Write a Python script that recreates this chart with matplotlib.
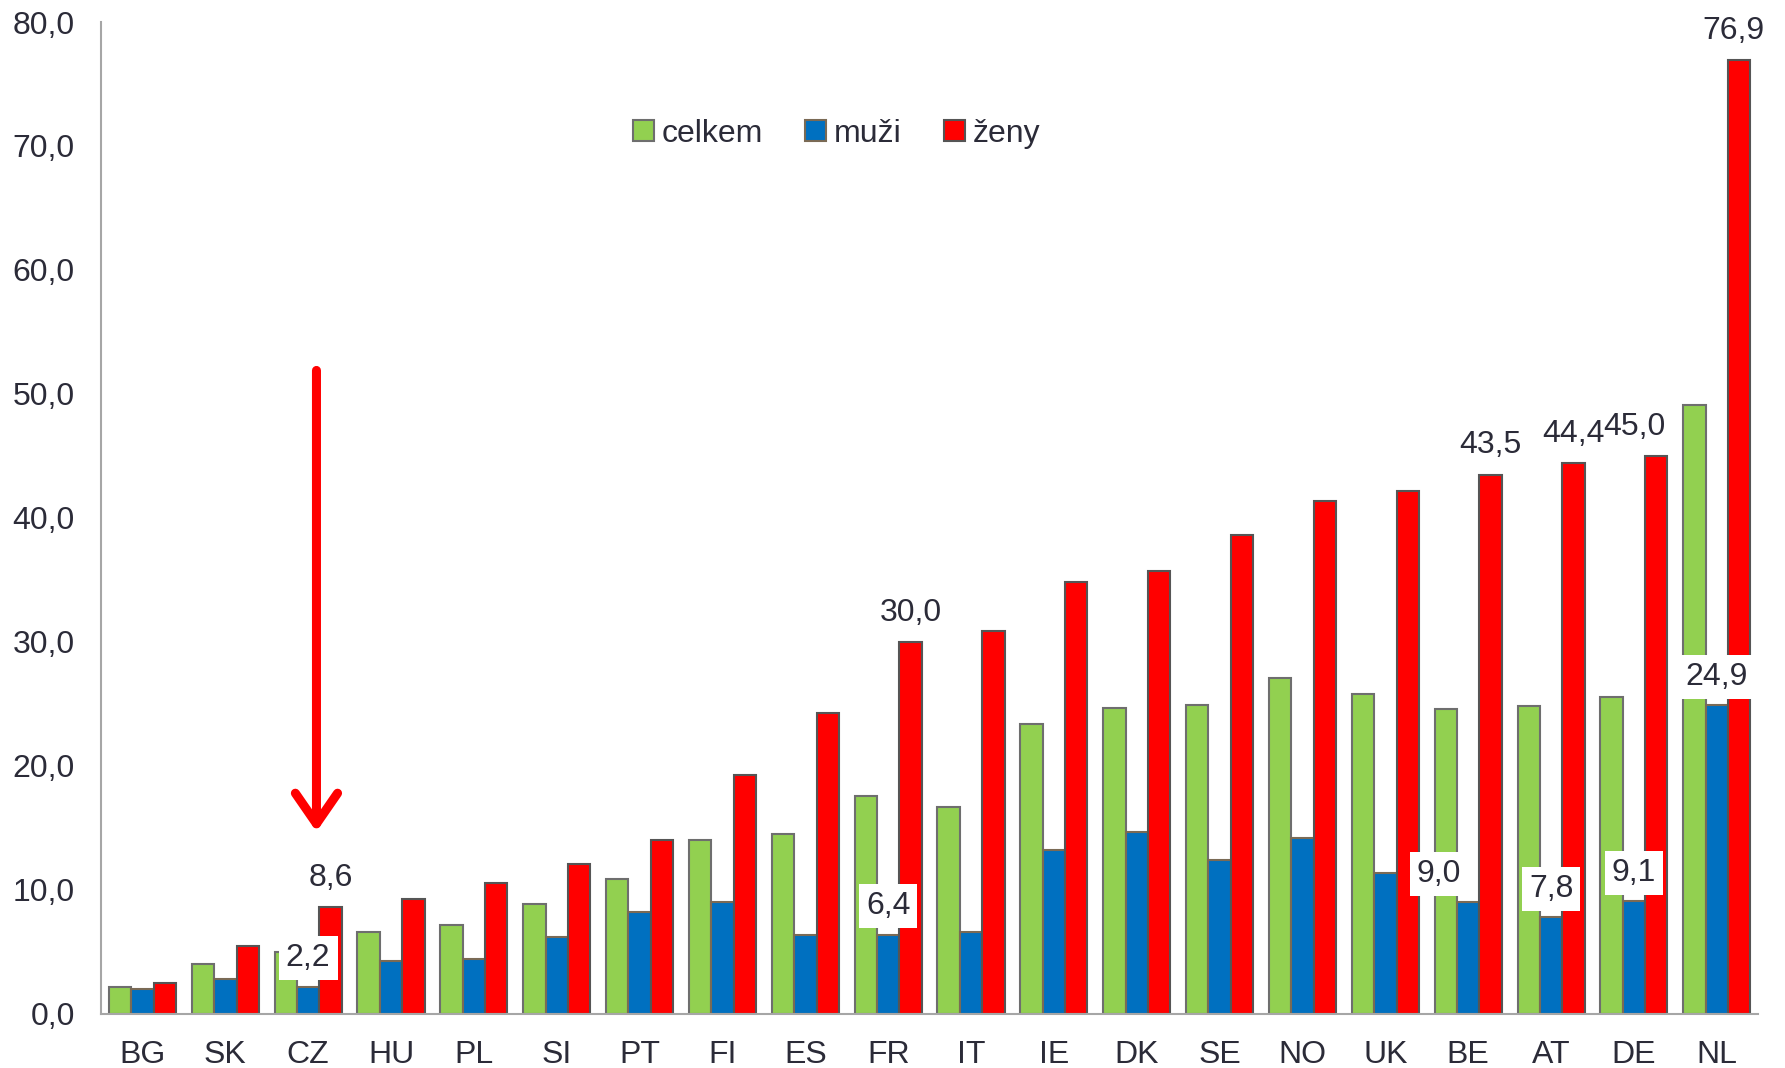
import matplotlib.pyplot as plt
import numpy as np
from matplotlib.ticker import FuncFormatter

plt.rcParams['font.family'] = ['Liberation Sans', 'DejaVu Sans']

# data
countries = ['BG', 'SK', 'CZ', 'HU', 'PL', 'SI', 'PT', 'FI', 'ES', 'FR',
             'IT', 'IE', 'DK', 'SE', 'NO', 'UK', 'BE', 'AT', 'DE', 'NL']
celkem = [2.2, 4.0, 5.0, 6.6, 7.2, 8.9, 10.9, 14.0, 14.5, 17.6,
          16.7, 23.4, 24.7, 24.9, 27.1, 25.8, 24.6, 24.8, 25.6, 49.1]
muzi = [2.0, 2.8, 2.2, 4.3, 4.4, 6.2, 8.2, 9.0, 6.4, 6.4,
        6.6, 13.2, 14.7, 12.4, 14.2, 11.4, 9.0, 7.8, 9.1, 24.9]
zeny = [2.5, 5.5, 8.6, 9.3, 10.6, 12.1, 14.0, 19.3, 24.3, 30.0,
        30.9, 34.8, 35.7, 38.6, 41.4, 42.2, 43.5, 44.4, 45.0, 76.9]

# which bars get a value label
muzi_labelled = ['CZ', 'FR', 'BE', 'AT', 'DE', 'NL']
zeny_labelled = ['CZ', 'FR', 'BE', 'AT', 'DE', 'NL']

green = '#92D050'
blue = '#0070C0'
red = '#FF0000'
txt = '#2B2B38'

fig = plt.figure(figsize=(17.85, 10.68), dpi=100)
ax = fig.add_axes([0.0566, 0.0506, 0.9284, 0.9288])

x = np.arange(len(countries))
w = 0.27
ax.bar(x - w, celkem, w, color=green, edgecolor='#6E6E6E', linewidth=1.5, label='celkem', zorder=2)
ax.bar(x, muzi, w, color=blue, edgecolor='#7A6A55', linewidth=1.5, label='muži', zorder=2)
ax.bar(x + w, zeny, w, color=red, edgecolor='#555555', linewidth=1.5, label='ženy', zorder=2)

# value labels (small manual nudges where the original moved them)
nudge_m = {'BE': -21}
nudge_z = {'DE': -16, 'NL': -4}
for i, c in enumerate(countries):
    if c in muzi_labelled:
        ax.annotate('{:.1f}'.format(muzi[i]).replace('.', ','), (x[i], muzi[i]),
                    xytext=(nudge_m.get(c, 0), 20.5), textcoords='offset points',
                    ha='center', va='center', fontsize=23, color=txt, zorder=5,
                    bbox=dict(boxstyle='square,pad=0.22', fc='white', ec='none'))
    if c in zeny_labelled:
        ax.annotate('{:.1f}'.format(zeny[i]).replace('.', ','), (x[i] + w, zeny[i]),
                    xytext=(nudge_z.get(c, 0), 21), textcoords='offset points',
                    ha='center', va='center', fontsize=23, color=txt, zorder=5)

# red arrow pointing at CZ
ax.annotate('', xy=(2.1, 14.7), xytext=(2.1, 51.9),
            arrowprops=dict(arrowstyle='->,head_length=0.55,head_width=0.38',
                            mutation_scale=40, lw=6.5, color=red,
                            shrinkA=0, shrinkB=0, capstyle='round', joinstyle='round'),
            zorder=6)

ax.set_xlim(-0.5, len(countries) - 0.5)
ax.set_ylim(0, 80)
ax.set_yticks(np.arange(0, 81, 10))
ax.yaxis.set_major_formatter(FuncFormatter(lambda v, p: '{:.1f}'.format(v).replace('.', ',')))
ax.set_xticks(x)
ax.set_xticklabels(countries)
ax.tick_params(axis='both', length=0, labelsize=23, labelcolor=txt)
ax.tick_params(axis='y', pad=19)
ax.tick_params(axis='x', pad=19)

for s in ['top', 'right']:
    ax.spines[s].set_visible(False)
for s in ['left', 'bottom']:
    ax.spines[s].set_color('#A6A6A6')
    ax.spines[s].set_linewidth(1.5)

leg = ax.legend(loc='center', bbox_to_anchor=(0.444, 0.8875), ncol=3, frameon=False,
                fontsize=23, handlelength=0.65, handleheight=0.65, handletextpad=0.25,
                columnspacing=1.33, labelcolor=txt)

fig.savefig('out.png', dpi=100)
